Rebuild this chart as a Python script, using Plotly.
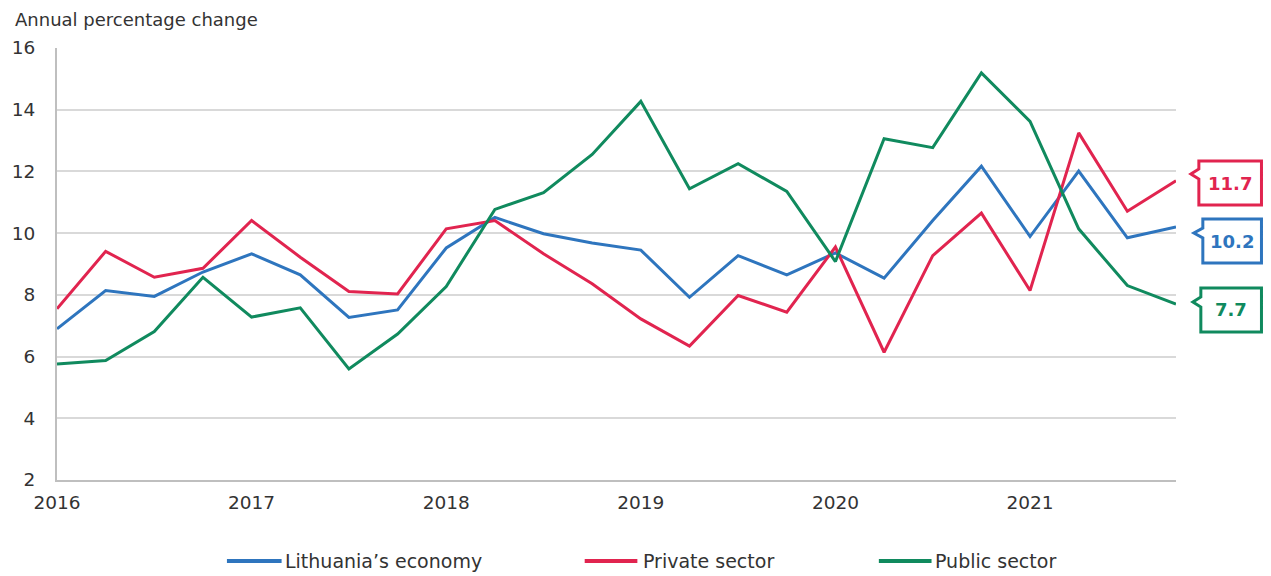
import plotly.graph_objects as go

# ---- data ----
quarters = [2016.0, 2016.25, 2016.5, 2016.75,
            2017.0, 2017.25, 2017.5, 2017.75,
            2018.0, 2018.25, 2018.5, 2018.75,
            2019.0, 2019.25, 2019.5, 2019.75,
            2020.0, 2020.25, 2020.5, 2020.75,
            2021.0, 2021.25, 2021.5, 2021.75]

economy = [6.9, 8.14, 7.95, 8.74, 9.33, 8.65, 7.27, 7.51, 9.52, 10.51, 9.98, 9.68,
           9.45, 7.92, 9.27, 8.65, 9.36, 8.54, 10.41, 12.17, 9.89, 12.01, 9.85, 10.2]
private = [7.55, 9.41, 8.57, 8.86, 10.41, 9.22, 8.11, 8.03, 10.14, 10.41, 9.33, 8.36,
           7.22, 6.34, 7.98, 7.44, 9.55, 6.14, 9.27, 10.65, 8.14, 13.25, 10.71, 11.7]
public = [5.76, 5.87, 6.81, 8.57, 7.28, 7.58, 5.6, 6.73, 8.27, 10.77, 11.31, 12.55,
          14.27, 11.44, 12.25, 11.35, 9.08, 13.06, 12.77, 15.19, 13.62, 10.14, 8.3, 7.7]

series_names = ["Lithuania\u2019s economy", "Private sector", "Public sector"]
end_labels = ["10.2", "11.7", "7.7"]
year_ticks = [2016, 2017, 2018, 2019, 2020, 2021]
y_ticks = [2, 4, 6, 8, 10, 12, 14, 16]

# ---- styling ----
colors = ["#2E75BE", "#E1244F", "#108A5E"]
FONT = "DejaVu Sans"
TXT = "#333333"
W, H = 1271, 576
L, R, T, B = 50, 95, 48, 96
PW, PH = W - L - R, H - T - B


def px_x(px):
    return (px - L) / PW


def px_y(py):
    return (H - B - py) / PH


fig = go.Figure()
for vals, name, col in zip([economy, private, public], series_names, colors):
    fig.add_trace(go.Scatter(x=quarters, y=vals, mode="lines", name=name,
                             line=dict(color=col, width=3), showlegend=False))

fig.update_layout(
    width=W, height=H,
    margin=dict(l=L, r=R, t=T, b=B),
    paper_bgcolor="white", plot_bgcolor="white",
    font=dict(family=FONT, size=18, color=TXT),
    xaxis=dict(range=[2016, 2021.75], tickvals=year_ticks,
               ticktext=[str(y) for y in year_ticks],
               showgrid=False, zeroline=False,
               showline=True, linecolor="#BFBFBF", linewidth=2,
               ticks="", ticklabelstandoff=5,
               tickfont=dict(family=FONT, size=18.5, color=TXT)),
    yaxis=dict(range=[2, 16], tickvals=y_ticks,
               showgrid=True, gridcolor="#D9D9D9", gridwidth=2,
               zeroline=False, showline=True, linecolor="#BFBFBF", linewidth=2,
               ticks="", ticklabelstandoff=16,
               tickfont=dict(family=FONT, size=18.5, color=TXT)),
)

# axis title
fig.add_annotation(text="Annual percentage change", xref="paper", yref="paper",
                   x=px_x(6), y=px_y(32), xanchor="left", yanchor="bottom",
                   showarrow=False, font=dict(family=FONT, size=18, color=TXT))

# custom legend
legend_items = [
    (221, 276, 277),
    (581, 634, 638),
    (877, 930, 931),
]
leg_y = 561
for (x0, x1, xt), name, col in zip(legend_items, series_names, colors):
    fig.add_shape(type="line", xref="paper", yref="paper",
                  x0=px_x(x0), x1=px_x(x1), y0=px_y(leg_y), y1=px_y(leg_y),
                  line=dict(color=col, width=4))
    fig.add_annotation(text=name, xref="paper", yref="paper",
                       x=px_x(xt), y=px_y(leg_y), xanchor="left", yanchor="middle",
                       showarrow=False, font=dict(family=FONT, size=19, color=TXT))

# end-value callouts: (left, right, top, bottom, tip_x, tip_y)
callouts = [
    (1203, 1262, 219, 263, 1194, 233),
    (1199, 1262, 161, 205, 1191, 174),
    (1201, 1262, 288, 332, 1193, 302),
]
for (l, r, t, b, tx, ty), lab, col in zip(callouts, end_labels, colors):
    pts = [(l, t), (r, t), (r, b), (l, b), (l, ty + 5), (tx, ty), (l, ty - 5)]
    path = "M " + " L ".join(f"{px_x(a):.5f},{px_y(c):.5f}" for a, c in pts) + " Z"
    fig.add_shape(type="path", xref="paper", yref="paper", path=path,
                  fillcolor="white", line=dict(color=col, width=3))
    fig.add_annotation(text=f"<b>{lab}</b>", xref="paper", yref="paper",
                       x=px_x((l + r) / 2), y=px_y((t + b) / 2),
                       xanchor="center", yanchor="middle", showarrow=False,
                       font=dict(family=FONT, size=18, color=col))

fig.write_html("out.html",
               config={"displayModeBar": False},
               post_script="document.body.style.margin='0';"
                           "document.body.style.overflow='hidden';")
